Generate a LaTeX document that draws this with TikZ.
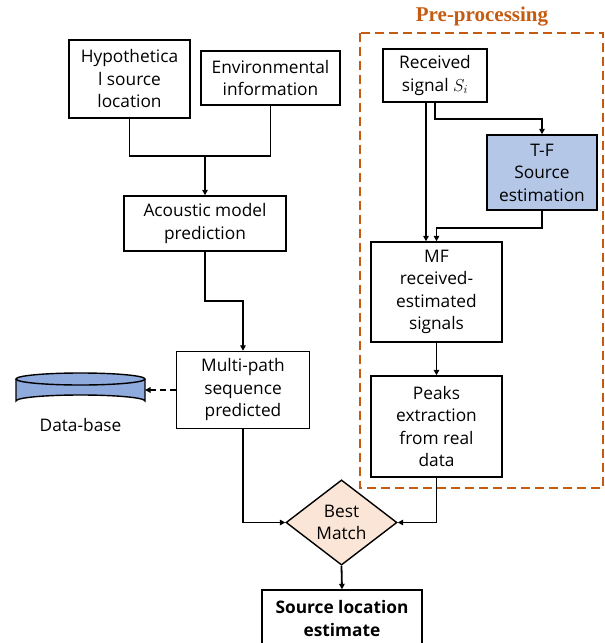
\documentclass[tikz,border=0pt]{standalone}
\usepackage{fontspec}
\setmainfont{Open Sans}
\newfontfamily\titlefont{Liberation Serif}
\usepackage{xcolor}
\usetikzlibrary{arrows.meta, positioning, shapes.geometric, calc}
\definecolor{preorange}{RGB}{197,90,17}
\definecolor{tfblue}{RGB}{180,199,231}
\definecolor{dbblue}{RGB}{143,170,220}
\definecolor{matchpeach}{RGB}{251,229,214}

\begin{document}
\begin{tikzpicture}[
        x=1pt, y=-1pt,
        block/.style={rectangle, draw, line width=1.4pt, inner sep=0pt, align=center, fill=#1,
            font=\fontsize{17.3}{22.5}\selectfont},
        block/.default=white,
        arrow/.style={-{Triangle[length=5.5pt, width=5.5pt]}, line width=1.8pt},
        link/.style={line width=1.8pt}
    ]
        \clip (0,0) rectangle (605,643);

        % Left column
        \node[block, minimum width=121pt, minimum height=78pt] (hyp) at (129.5, 79) {Hypothetica\\l source\\location};
        \node[block, minimum width=139pt, minimum height=54pt] (env) at (270.5, 78) {Environmental\\information};
        \node[block, minimum width=162pt, minimum height=55pt] (acou) at (205, 223.5) {Acoustic model\\prediction};
        \node[block, minimum width=133pt, minimum height=77pt] (multi) at (243, 390) {Multi-path\\sequence\\predicted};

        % Data-base
        \draw[line width=1.4pt, fill=dbblue] (16,379) -- (16,401) arc[start angle=180, end angle=360, x radius=64.5, y radius=6] -- (145,379);
        \draw[line width=1.4pt, fill=dbblue] (80.5,379) ellipse[x radius=64.5, y radius=6];
        \coordinate (dbright) at (145,390);
        \node[font=\fontsize{17.3}{22.5}\selectfont] (dblabel) at (80.5, 425) {Data-base};

        % Pre-processing
        \node[block, minimum width=104pt, minimum height=53pt] (recv) at (435, 75.5) {Received\\signal $S_i$};
        \node[block=tfblue, minimum width=110pt, minimum height=75pt] (tf) at (542, 172.5) {T-F\\Source\\estimation};
        \node[block, minimum width=131pt, minimum height=100pt] (mf) at (436.5, 292) {MF\\received-\\estimated\\signals};
        \node[block, minimum width=131pt, minimum height=101pt] (peaks) at (436.5, 426.5) {Peaks\\extraction\\from real\\data};
        \draw[preorange, line width=2.6pt, dash pattern=on 9pt off 5pt] (360,33) rectangle (603,488);
        \node[text=preorange, font=\titlefont\fontsize{21}{24}\selectfont\bfseries] (pretitle) at (482, 17) {Pre-processing};

        % Matching
        \node[diamond, draw, line width=1.4pt, fill=matchpeach, inner sep=0pt, minimum width=111pt, minimum height=79pt,
            align=center, font=\fontsize{17.3}{22.5}\selectfont] (best) at (341.5, 522.5) {Best\\Match};
        \node[block, minimum width=160pt, minimum height=57pt, font=\fontsize{17.3}{22.5}\selectfont\bfseries] (src) at (342, 618.5) {Source location\\estimate};

        % Arrows
        \coordinate (merge) at (205,156);
        \coordinate (bend) at (205,301);
        \draw[link] (hyp.south) |- (merge) -| (env.south);
        \draw[arrow] (merge) -- (acou.north);
        \draw[arrow] (acou.south) -- (bend) -| (multi.north);
        \draw[arrow, dash pattern=on 6pt off 4pt] (multi.west |- dbright) -- (dbright);
        \draw[arrow] (multi.south) |- (best.west);
        \draw[-{Triangle[length=5.5pt, width=5.5pt]}, line width=2.8pt] ([xshift=-9pt]recv.south) -- ([xshift=-9pt]recv.south |- mf.north);
        \draw[arrow] (recv.south) -- ++(0,16) -| (tf.north);
        \draw[arrow] (tf.south) -- ++(0,17) -| (mf.north);
        \draw[arrow] (mf.south) -- (peaks.north);
        \draw[arrow] (peaks.south) |- (best.east);
        \draw[arrow] (best.south) -- (src.north);
    \end{tikzpicture}
\end{document}
